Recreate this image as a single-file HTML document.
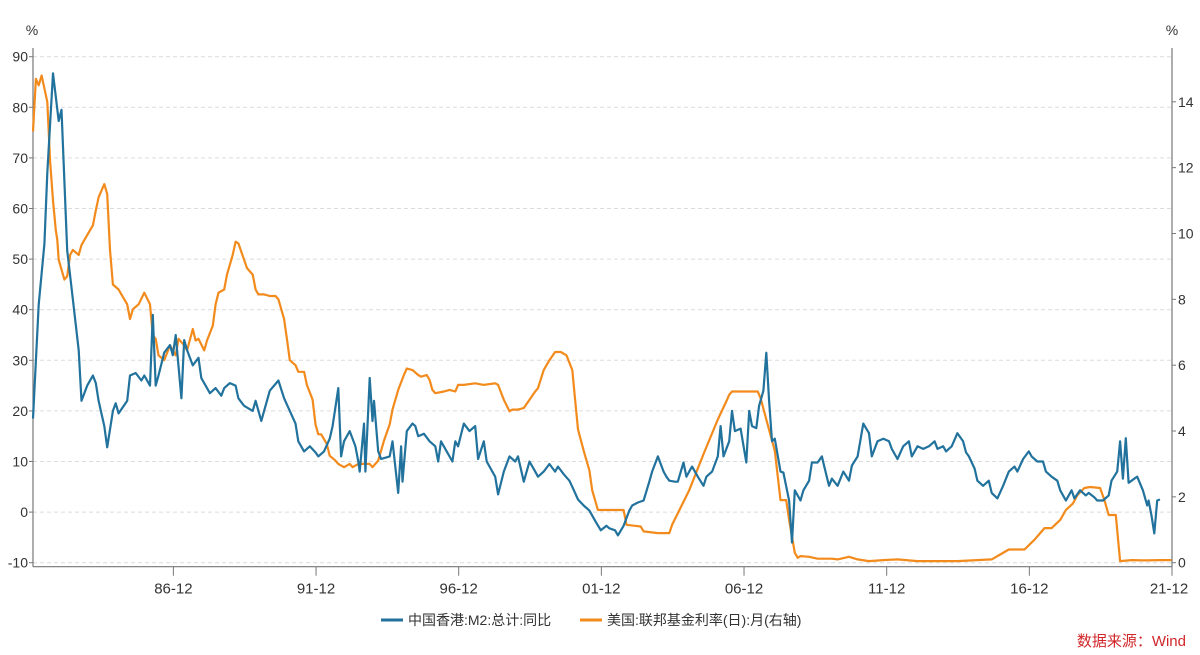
<!DOCTYPE html>
<html><head><meta charset="utf-8"><style>
html,body{margin:0;padding:0;background:#fff;}
svg{display:block;font-family:"Liberation Sans","Noto Sans CJK SC",sans-serif;}
</style></head><body>
<svg id="chart" width="1200" height="655" viewBox="0 0 1200 655" xmlns="http://www.w3.org/2000/svg"></svg>
<script>
const xTickLabels=["86-12","91-12","96-12","01-12","06-12","11-12","16-12","21-12"];
const xTickYears=[1986.92,1991.92,1996.92,2001.92,2006.92,2011.92,2016.92,2021.92];
const leftTicks=[-10,0,10,20,30,40,50,60,70,80,90];
const rightTicks=[0,2,4,6,8,10,12,14];
const m2Years=[1982.0,1982.2,1982.4,1982.5,1982.7,1982.9,1983.0,1983.2,1983.4,1983.6,1983.7,1983.9,1984.1,1984.2,1984.3,1984.5,1984.6,1984.8,1984.9,1985.0,1985.3,1985.4,1985.6,1985.8,1985.9,1986.1,1986.2,1986.3,1986.4,1986.6,1986.8,1986.9,1987.0,1987.2,1987.3,1987.4,1987.6,1987.8,1987.9,1988.2,1988.4,1988.6,1988.7,1988.9,1989.1,1989.2,1989.4,1989.7,1989.8,1990.0,1990.1,1990.3,1990.6,1990.8,1991.0,1991.2,1991.3,1991.5,1991.7,1991.9,1992.0,1992.2,1992.4,1992.5,1992.7,1992.8,1992.9,1993.1,1993.3,1993.4,1993.45,1993.6,1993.65,1993.8,1993.9,1993.95,1994.1,1994.2,1994.5,1994.6,1994.8,1994.9,1994.95,1995.1,1995.3,1995.4,1995.5,1995.7,1995.9,1996.1,1996.2,1996.3,1996.5,1996.7,1996.8,1996.9,1997.1,1997.3,1997.5,1997.6,1997.8,1997.9,1998.2,1998.3,1998.5,1998.7,1998.9,1999.0,1999.2,1999.4,1999.6,1999.7,1999.9,2000.1,2000.3,2000.4,2000.6,2000.8,2000.9,2001.1,2001.3,2001.5,2001.7,2001.9,2002.1,2002.2,2002.4,2002.5,2002.7,2002.9,2003.0,2003.2,2003.4,2003.6,2003.7,2003.9,2004.1,2004.2,2004.3,2004.5,2004.6,2004.8,2004.9,2005.0,2005.1,2005.3,2005.5,2005.6,2005.8,2006.0,2006.1,2006.2,2006.4,2006.5,2006.6,2006.8,2007.0,2007.1,2007.2,2007.35,2007.45,2007.6,2007.7,2007.8,2007.9,2008.0,2008.2,2008.3,2008.5,2008.6,2008.7,2008.9,2009.0,2009.2,2009.3,2009.5,2009.65,2009.7,2009.9,2010.0,2010.2,2010.4,2010.6,2010.7,2010.9,2011.1,2011.3,2011.4,2011.6,2011.8,2012.0,2012.1,2012.3,2012.5,2012.7,2012.8,2013.0,2013.2,2013.4,2013.6,2013.7,2013.9,2014.0,2014.2,2014.4,2014.6,2014.7,2014.8,2015.0,2015.1,2015.3,2015.5,2015.6,2015.8,2016.0,2016.2,2016.4,2016.5,2016.7,2016.9,2017.0,2017.2,2017.4,2017.5,2017.7,2017.9,2018.0,2018.2,2018.4,2018.5,2018.7,2018.9,2019.0,2019.2,2019.3,2019.5,2019.7,2019.8,2020.0,2020.1,2020.2,2020.3,2020.4,2020.6,2020.7,2020.9,2021.05,2021.1,2021.2,2021.3,2021.4,2021.5];
const m2Values=[18.5,41,53,67,86.7,77.3,79.5,51.7,42,32,22,25,27,25.5,22,17,12.8,20,21.5,19.5,22,27,27.5,26,27,25,39,25,27,31.5,33,31,35,22.5,34,32,29,30.5,26.5,23.5,24.5,23,24.5,25.5,25,22.5,21,20,22,18,20,24,26,22.5,20,17.5,14,12,13,11.8,11,12,14.5,17,24.5,11,14,16,13,10,8,17.5,8,26.5,18,22,12,10.5,11,14,3.8,13,6,16,17.5,17,15,15.5,14,13,10,14,12,10,14,13,17.5,16,17,10.5,14,10,7,3.5,8,11,10,11,6,10,8,7,8,9.5,8,9,7.5,6.2,5,2.5,1.3,0.3,-1.7,-3.6,-2.7,-3.2,-3.6,-4.6,-2.7,0.3,1.3,1.9,2.3,6,8,11,8,7,6.2,6,6,9.8,7,8,9,7,5.2,7,8,11,17,11,14,20,16,16.5,9.8,20,17,16.6,21,24,31.5,22,14,14.5,8,7.8,2.3,-6,4.3,2.3,4.3,6.2,9.8,9.8,11,9.8,5.2,6.6,5.2,8,6.2,9.2,11,17.5,15.6,11,14,14.5,14,12.5,10.5,13,14,11,13,12.5,13,14,12.5,13,12,13,15.6,14,11.8,11,8.6,6.2,5.2,6.2,3.8,2.7,5.2,8,9,8,10.5,12,11,10,10,8,7,6.2,4.3,2.3,4.3,2.7,4.3,3.3,3.8,2.9,2.3,2.3,3.3,6.2,8,14,6.6,14.6,5.8,6.6,7,4.3,1.3,2.3,-0.7,-4.2,2.3,2.5];
const ffYears=[1982.0,1982.1,1982.2,1982.3,1982.5,1982.6,1982.7,1982.8,1982.85,1982.9,1983.1,1983.2,1983.3,1983.4,1983.6,1983.7,1983.9,1984.1,1984.2,1984.3,1984.5,1984.6,1984.7,1984.8,1985.0,1985.1,1985.3,1985.4,1985.5,1985.7,1985.9,1986.1,1986.2,1986.3,1986.4,1986.6,1986.8,1987.0,1987.1,1987.3,1987.4,1987.6,1987.7,1987.8,1988.0,1988.1,1988.3,1988.4,1988.5,1988.7,1988.8,1989.0,1989.1,1989.2,1989.4,1989.5,1989.7,1989.8,1989.9,1990.1,1990.3,1990.5,1990.6,1990.8,1990.9,1991.0,1991.2,1991.3,1991.5,1991.6,1991.8,1991.9,1992.0,1992.1,1992.3,1992.4,1992.6,1992.7,1992.9,1993.1,1993.2,1993.4,1993.6,1993.8,1993.9,1994.1,1994.3,1994.5,1994.6,1994.8,1995.0,1995.1,1995.3,1995.5,1995.6,1995.8,1995.9,1996.0,1996.1,1996.4,1996.6,1996.8,1996.9,1997.1,1997.5,1997.8,1998.2,1998.3,1998.5,1998.7,1998.8,1999.0,1999.2,1999.4,1999.6,1999.7,1999.9,2000.1,2000.3,2000.5,2000.7,2000.9,2001.0,2001.1,2001.3,2001.5,2001.6,2001.8,2002.0,2002.3,2002.7,2002.8,2003.3,2003.4,2003.9,2004.3,2004.4,2005.0,2005.5,2006.0,2006.3,2006.4,2006.5,2007.4,2007.5,2007.7,2008.0,2008.2,2008.4,2008.5,2008.7,2008.8,2008.9,2009.2,2009.5,2010.0,2010.2,2010.6,2010.9,2011.3,2011.8,2012.3,2013.0,2013.7,2014.4,2015.6,2015.9,2016.2,2016.75,2017.1,2017.3,2017.45,2017.7,2018.0,2018.2,2018.45,2018.6,2018.85,2019.05,2019.4,2019.55,2019.7,2019.95,2020.1,2020.5,2021.0,2021.5,2021.9];
const ffValues=[13.1,14.7,14.5,14.8,14.0,12.2,11.0,10.1,9.8,9.2,8.6,8.7,9.35,9.5,9.35,9.65,9.95,10.25,10.7,11.1,11.5,11.2,9.5,8.45,8.3,8.15,7.85,7.4,7.7,7.85,8.2,7.85,6.9,6.8,6.3,6.15,6.6,6.3,6.8,6.6,6.45,7.1,6.75,6.8,6.45,6.75,7.2,7.85,8.2,8.3,8.75,9.35,9.75,9.7,9.2,8.95,8.75,8.3,8.15,8.15,8.1,8.1,8.0,7.4,6.8,6.15,6.0,5.8,5.8,5.4,4.95,4.2,3.9,3.9,3.6,3.25,3.1,3.0,2.9,3.0,2.9,3.0,3.0,3.0,2.9,3.1,3.7,4.2,4.65,5.25,5.7,5.9,5.85,5.7,5.65,5.7,5.55,5.25,5.15,5.2,5.25,5.2,5.4,5.4,5.45,5.4,5.45,5.4,4.95,4.6,4.65,4.65,4.7,4.95,5.2,5.3,5.85,6.15,6.4,6.4,6.3,5.85,4.95,4.05,3.4,2.8,2.2,1.6,1.6,1.6,1.6,1.15,1.1,0.95,0.9,0.9,1.15,2.2,3.3,4.35,4.9,5.1,5.2,5.2,5.0,4.35,3.4,1.9,1.9,1.3,0.3,0.15,0.2,0.18,0.12,0.12,0.1,0.18,0.1,0.05,0.08,0.1,0.05,0.05,0.05,0.1,0.25,0.4,0.4,0.7,0.9,1.05,1.05,1.3,1.6,1.8,2.05,2.27,2.3,2.27,1.9,1.45,1.45,0.05,0.08,0.07,0.08,0.08];

const svg=document.getElementById('chart');
const NS='http://www.w3.org/2000/svg';
const X0=33,X1=1172,YEAR0=1982.0,YEAR1=2021.92;
const YT=56.7,YB=562.7;
function xs(y){return X0+(y-YEAR0)/(YEAR1-YEAR0)*(X1-X0);}
function yl(v){return YB-(v+10)/100*(YB-YT);}
function yr(v){return YB-v/14*(YB-101.8);}
function mk(tag,attrs,parent){const e=document.createElementNS(NS,tag);for(const k in attrs)e.setAttribute(k,attrs[k]);(parent||svg).appendChild(e);return e;}

const grid=mk('g',{});


leftTicks.forEach(v=>{
  const l=mk('line',{x1:X0,x2:X1,y1:yl(v),y2:yl(v),stroke:'#dcdcdc','stroke-dasharray':'4,3','stroke-width':1},grid);
  
  
});

const axes=mk('g',{stroke:'#777','stroke-width':1.2});


mk('line',{x1:X0,x2:X0,y1:48,y2:YB+4},axes);
mk('line',{x1:X1,x2:X1,y1:48,y2:YB+4},axes);
mk('line',{x1:X0,x2:X1,y1:YB+4,y2:YB+4},axes);

const lt=mk('g',{});


leftTicks.forEach(v=>{
  mk('line',{x1:X0-4,x2:X0,y1:yl(v),y2:yl(v),stroke:'#777'},lt);
  const t=mk('text',{x:X0-5,y:yl(v)+5,'text-anchor':'end','font-size':14,fill:'#333'},lt);
  t.textContent=v;
});
const rt=mk('g',{});


rightTicks.forEach(v=>{
  mk('line',{x1:X1,x2:X1+4,y1:yr(v),y2:yr(v),stroke:'#777'},rt);
  const t=mk('text',{x:X1+6,y:yr(v)+5,'text-anchor':'start','font-size':14,fill:'#333'},rt);
  t.textContent=v;
});
const xt=mk('g',{});


xTickYears.forEach((y,i)=>{
  const x=Math.min(xs(y),X1);
  mk('line',{x1:x,x2:x,y1:YB+4,y2:YB+13,stroke:'#777'},xt);
  const t=mk('text',{x:i===xTickYears.length-1?x-3:x,y:YB+31,'text-anchor':'middle','font-size':15,fill:'#333'},xt);
  t.textContent=xTickLabels[i];
});
const u1=mk('text',{x:32,y:35,'text-anchor':'middle','font-size':14,fill:'#333'});


u1.textContent='%';
const u2=mk('text',{x:1172,y:35,'text-anchor':'middle','font-size':14,fill:'#333'});


u2.textContent='%';

const ffPath=mk('path',{d:ffYears.map((y,i)=>(i?'L':'M')+xs(y).toFixed(1)+','+yr(ffValues[i]).toFixed(1)).join(''),fill:'none',stroke:'#f28a1c','stroke-width':2.2,'stroke-linejoin':'round'});


const m2Path=mk('path',{d:m2Years.map((y,i)=>(i?'L':'M')+xs(y).toFixed(1)+','+yl(m2Values[i]).toFixed(1)).join(''),fill:'none',stroke:'#21729c','stroke-width':2.2,'stroke-linejoin':'round'});



const lg=mk('g',{});


const e1=mk('g',{},lg);


mk('line',{x1:381,x2:403,y1:620,y2:620,stroke:'#21729c','stroke-width':3},e1);
const t1=mk('text',{x:408,y:625,'font-size':14,fill:'#333'},e1);t1.textContent='中国香港:M2:总计:同比';
const e2=mk('g',{},lg);


mk('line',{x1:580,x2:602,y1:620,y2:620,stroke:'#f28a1c','stroke-width':3},e2);
const t2=mk('text',{x:607,y:625,'font-size':14,fill:'#333'},e2);t2.textContent='美国:联邦基金利率(日):月(右轴)';
const src=mk('text',{x:1186,y:646,'text-anchor':'end','font-size':15,fill:'#d0262a'});


src.textContent='数据来源：Wind';
</script>
</body></html>
